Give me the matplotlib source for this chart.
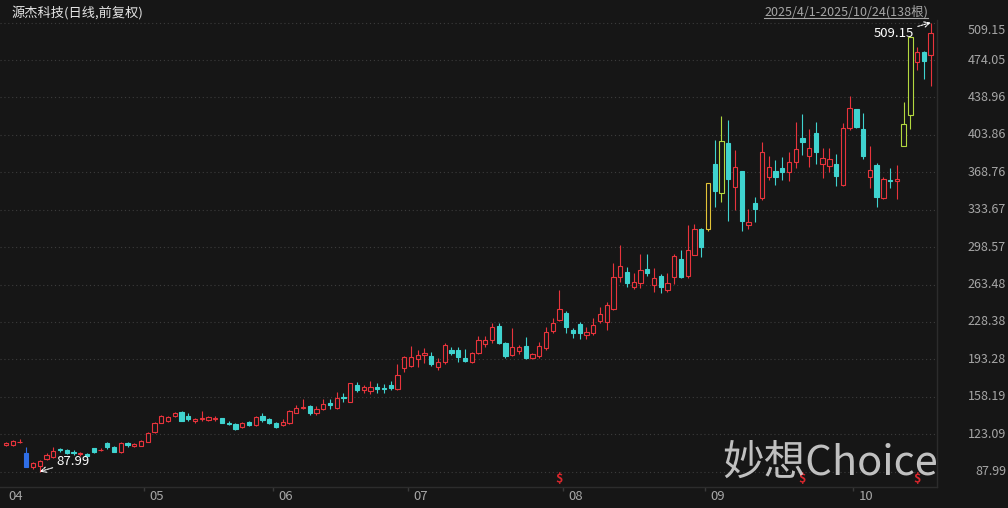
import matplotlib
matplotlib.use("Agg")
import matplotlib.pyplot as plt
from matplotlib.lines import Line2D

plt.rcParams['font.family'] = ['Noto Sans CJK SC', 'DejaVu Sans']

# daily OHLC, 2025/4/1 - 2025/10/24 (138 bars)
opens = [113.4, 112.6, 115.3, 105.4, 92.3, 93.2, 99.8, 101.7, 109.2, 108.3,
         106.4, 104.5, 104.5, 110.1, 107.8, 114.8, 111.1, 106.4, 114.4, 112.0,
         112.0, 115.8, 125.2, 133.6, 135.4, 140.2, 143.9, 140.2, 135.4, 137.3,
         136.4, 136.9, 138.3, 134.0, 132.6, 129.8, 134.5, 131.7, 140.2, 137.3,
         133.6, 131.7, 133.6, 142.9, 148.1, 149.5, 142.9, 146.7, 151.9, 147.6,
         157.5, 153.3, 169.2, 164.5, 163.6, 166.9, 166.4, 169.2, 165.5, 185.2,
         187.0, 193.6, 197.8, 196.4, 186.1, 190.8, 202.1, 202.1, 194.5, 190.8,
         199.2, 207.7, 211.4, 224.6, 208.6, 197.4, 201.1, 205.8, 194.5, 196.4,
         203.9, 219.9, 230.2, 236.8, 220.8, 226.4, 216.1, 218.0, 229.3, 228.3,
         240.5, 270.5, 275.2, 261.1, 264.9, 278.0, 263.0, 271.5, 258.3, 270.5,
         287.4, 271.5, 291.2, 315.5, 315.5, 376.5, 349.3, 396.2, 354.9, 369.9,
         319.3, 340.0, 344.6, 364.3, 369.9, 372.8, 369.0, 378.4, 400.9, 384.0,
         405.6, 376.5, 374.6, 376.5, 356.8, 410.3, 428.1, 409.3, 364.3, 375.6,
         344.6, 361.5, 360.6, 393.4, 422.5, 472.2, 481.6, 478.8]
closes = [114.4, 116.7, 116.2, 92.3, 96.1, 97.9, 103.6, 107.3, 108.3, 105.4,
          105.4, 105.4, 102.6, 106.4, 108.7, 111.1, 106.4, 114.8, 113.4, 113.9,
          116.7, 124.2, 133.6, 140.2, 139.2, 142.5, 135.4, 137.3, 137.3, 138.7,
          139.2, 137.8, 133.6, 133.1, 127.9, 133.6, 131.7, 139.2, 136.4, 133.6,
          129.8, 134.5, 144.8, 147.7, 149.0, 142.9, 146.7, 151.4, 150.9, 157.0,
          156.6, 171.1, 164.5, 167.3, 167.3, 165.9, 165.0, 166.4, 178.6, 195.5,
          195.5, 197.4, 198.8, 188.9, 190.8, 206.7, 199.2, 195.5, 191.7, 199.2,
          211.4, 211.4, 223.6, 208.6, 196.4, 204.9, 204.9, 194.5, 198.3, 205.8,
          218.9, 227.4, 240.5, 223.6, 218.0, 218.0, 218.9, 225.5, 235.8, 244.3,
          270.5, 280.8, 264.9, 265.8, 277.1, 274.3, 269.6, 261.1, 264.9, 290.2,
          270.5, 295.9, 315.5, 298.7, 358.4, 351.2, 398.1, 362.4, 373.7, 323.1,
          322.1, 334.3, 387.8, 373.7, 364.3, 369.0, 378.4, 390.6, 397.2, 391.5,
          387.8, 382.1, 381.2, 365.3, 410.3, 429.0, 411.2, 384.0, 370.9, 345.6,
          362.4, 360.6, 362.4, 414.0, 495.8, 481.6, 473.1, 499.4]
highs = [115.8, 117.6, 118.6, 111.1, 97.0, 98.9, 105.4, 111.1, 110.1, 109.2,
         108.3, 106.4, 105.4, 110.1, 110.1, 115.8, 112.0, 115.8, 115.8, 114.8,
         117.6, 125.2, 134.5, 141.1, 140.2, 143.9, 144.8, 143.0, 138.3, 144.8,
         140.2, 140.2, 138.3, 135.4, 133.6, 134.5, 135.4, 140.2, 143.0, 138.3,
         134.5, 137.3, 145.8, 150.5, 156.1, 150.5, 149.5, 156.1, 156.1, 162.7,
         161.7, 171.1, 172.0, 169.2, 173.0, 171.1, 170.2, 173.0, 188.9, 196.4,
         205.8, 202.1, 203.9, 200.2, 194.5, 208.6, 204.9, 204.9, 203.0, 200.2,
         215.2, 215.2, 227.4, 227.4, 209.6, 222.7, 206.7, 214.2, 199.2, 209.6,
         223.6, 232.1, 258.3, 238.6, 222.7, 228.3, 223.6, 232.1, 242.4, 247.1,
         283.6, 300.5, 279.9, 274.3, 292.1, 292.1, 279.0, 273.3, 274.3, 292.1,
         295.9, 319.3, 320.2, 316.5, 358.4, 399.0, 421.4, 417.8, 389.6, 369.9,
         334.3, 345.6, 397.1, 384.0, 380.3, 383.1, 387.8, 415.9, 423.4, 409.3,
         415.9, 391.5, 391.5, 385.9, 415.0, 440.3, 428.1, 424.4, 393.4, 377.4,
         364.3, 372.8, 375.6, 434.9, 496.8, 486.3, 482.5, 509.15]
lows = [112.0, 112.0, 114.8, 92.3, 90.4, 87.99, 98.9, 100.7, 106.4, 104.5,
        103.6, 102.6, 101.7, 105.4, 107.3, 109.2, 106.4, 105.9, 111.1, 111.1,
        112.0, 115.8, 124.2, 133.6, 134.5, 139.2, 135.4, 135.4, 133.6, 135.4,
        135.4, 135.4, 133.6, 131.7, 127.0, 128.9, 130.8, 130.8, 134.5, 132.6,
        128.9, 130.8, 132.6, 142.9, 146.7, 141.1, 141.1, 145.8, 146.7, 146.7,
        153.3, 153.3, 162.7, 161.7, 160.8, 161.7, 161.7, 164.5, 164.5, 181.4,
        186.1, 186.1, 189.9, 187.0, 183.3, 188.9, 197.4, 190.8, 190.8, 189.9,
        198.3, 204.9, 208.6, 207.7, 194.5, 196.4, 198.3, 193.6, 193.6, 194.5,
        202.1, 218.0, 229.3, 218.0, 213.3, 212.4, 212.4, 216.1, 227.4, 220.8,
        239.6, 265.8, 261.1, 259.2, 260.2, 271.5, 256.4, 255.5, 256.4, 264.0,
        269.6, 269.6, 291.2, 289.3, 313.7, 336.2, 340.9, 323.1, 333.4, 313.7,
        315.5, 322.1, 342.8, 361.5, 356.8, 361.5, 360.6, 372.8, 385.0, 373.7,
        376.5, 363.4, 369.0, 355.9, 355.9, 408.4, 410.3, 381.2, 354.0, 336.2,
        343.7, 354.0, 343.7, 393.4, 409.4, 464.7, 456.2, 449.7]

limit_up = [104]                 # closed at limit up
touch_limit_up = [106, 133, 134]  # touched limit up
limit_down = [3]
signal_bars = [82, 118, 135]

month_labels = ['04', '05', '06', '07', '08', '09', '10']
month_starts = [0, 21, 40, 60, 83, 104, 126]
ytick_values = [87.99, 123.09, 158.19, 193.28, 228.38, 263.48, 298.57,
                333.67, 368.76, 403.86, 438.96, 474.05, 509.15]

title = '源杰科技(日线,前复权)'
range_text = '2025/4/1-2025/10/24(138根)'
watermark = '妙想Choice'

BG = '#161616'
RED = '#e8343c'
CYAN = '#3fd3cf'
BLUE = '#2f6ee6'
YELLOW = '#e3c337'
LIME = '#b3d83f'
GRID = '#3c3c3c'
AXC = '#2c2c2c'
TXT = '#a6a6a6'

W, H = 1008, 508
fig = plt.figure(figsize=(W / 100, H / 100), dpi=100, facecolor=BG)
ax = fig.add_axes([0, 21 / H, 937 / W, 467 / H], facecolor=BG)

n = len(opens)
ax.set_xlim(-0.89, n - 0.07)
ax.set_ylim(73.54, 511.59)

for y in ytick_values:
    ax.axhline(y, color=GRID, lw=0.8, ls=(0, (1, 2.5)), zorder=0)

bw = 0.66
for i in range(n):
    o, c, h, l = opens[i], closes[i], highs[i], lows[i]
    up = c >= o
    if i in limit_down:
        col, face = BLUE, BLUE
    elif i in limit_up:
        col, face = YELLOW, BG
    elif i in touch_limit_up:
        col, face = LIME, BG
    elif up:
        col, face = RED, BG
    else:
        col, face = CYAN, CYAN
    lo, hi = min(o, c), max(o, c)
    if hi - lo < 0.5:
        hi = lo + 0.5
    ax.vlines(i, hi, h, color=col, lw=0.8, zorder=2)
    ax.vlines(i, l, lo, color=col, lw=0.8, zorder=2)
    ax.bar(i, hi - lo, bottom=lo, width=bw, color=face, edgecolor=col,
           linewidth=0.8, zorder=3)

# axis frame
for s in ['top', 'left']:
    ax.spines[s].set_visible(False)
for s in ['right', 'bottom']:
    ax.spines[s].set_color(AXC)
    ax.spines[s].set_linewidth(1)
ax.set_yticks([])
ax.set_xticks([m - 0.5 for m in month_starts[1:]])
ax.set_xticklabels([])
ax.tick_params(axis='x', length=3, color='#3a3a3a', width=1, direction='out')

for lab, m in zip(month_labels, month_starts):
    ax.annotate(lab, xy=(m, 0), xycoords=('data', 'axes fraction'),
                xytext=(2, -10), textcoords='offset pixels',
                ha='left', va='center', color=TXT, fontsize=9.5,
                annotation_clip=False)

# y labels on the right
for y in ytick_values:
    dy = -8 if y == max(ytick_values) else 0
    ax.annotate(f'{y:.2f}', xy=(1, y), xycoords=('axes fraction', 'data'),
                xytext=(69, dy), textcoords='offset pixels', ha='right',
                va='center', color=TXT, fontsize=9, annotation_clip=False)

# max / min annotations
imax = highs.index(max(highs))
imin = lows.index(min(lows))
arrow = dict(arrowstyle='->', color='white', lw=0.8, ls=(0, (2, 1)),
             shrinkA=1, shrinkB=0)
ax.annotate(f'{highs[imax]:.2f}', xy=(imax, highs[imax]), xytext=(-17, -11),
            textcoords='offset pixels', ha='right', va='center', color='white',
            fontsize=9.5, arrowprops=arrow, annotation_clip=False)
ax.annotate(f'{lows[imin]:.2f}', xy=(imin, lows[imin]), xytext=(17, 10),
            textcoords='offset pixels', ha='left', va='center', color='white',
            fontsize=9.5, arrowprops=arrow)

# signal markers
for b in signal_bars:
    ax.text(b, 0.018, '$', transform=ax.get_xaxis_transform(), ha='center',
            va='center', color='#d8262c', fontsize=9, fontweight='bold')

# header
fig.text(12 / W, 1 - 13 / H, title, color='#e6e6e6', fontsize=9.5,
         ha='left', va='center')
rt = fig.text(928 / W, 1 - 12 / H, range_text, color=TXT, fontsize=9,
              ha='right', va='center')
fig.canvas.draw()
bb = rt.get_window_extent().transformed(fig.transFigure.inverted())
fig.add_artist(Line2D([bb.x0, bb.x1], [bb.y0 + 0.002, bb.y0 + 0.002],
                      transform=fig.transFigure, color=TXT, lw=0.8))

fig.text(722 / W, 1 - 463 / H, watermark, color='#d4d4d4', alpha=0.9,
         fontsize=30, ha='left', va='center')

fig.savefig('out.png', dpi=100, facecolor=BG)
